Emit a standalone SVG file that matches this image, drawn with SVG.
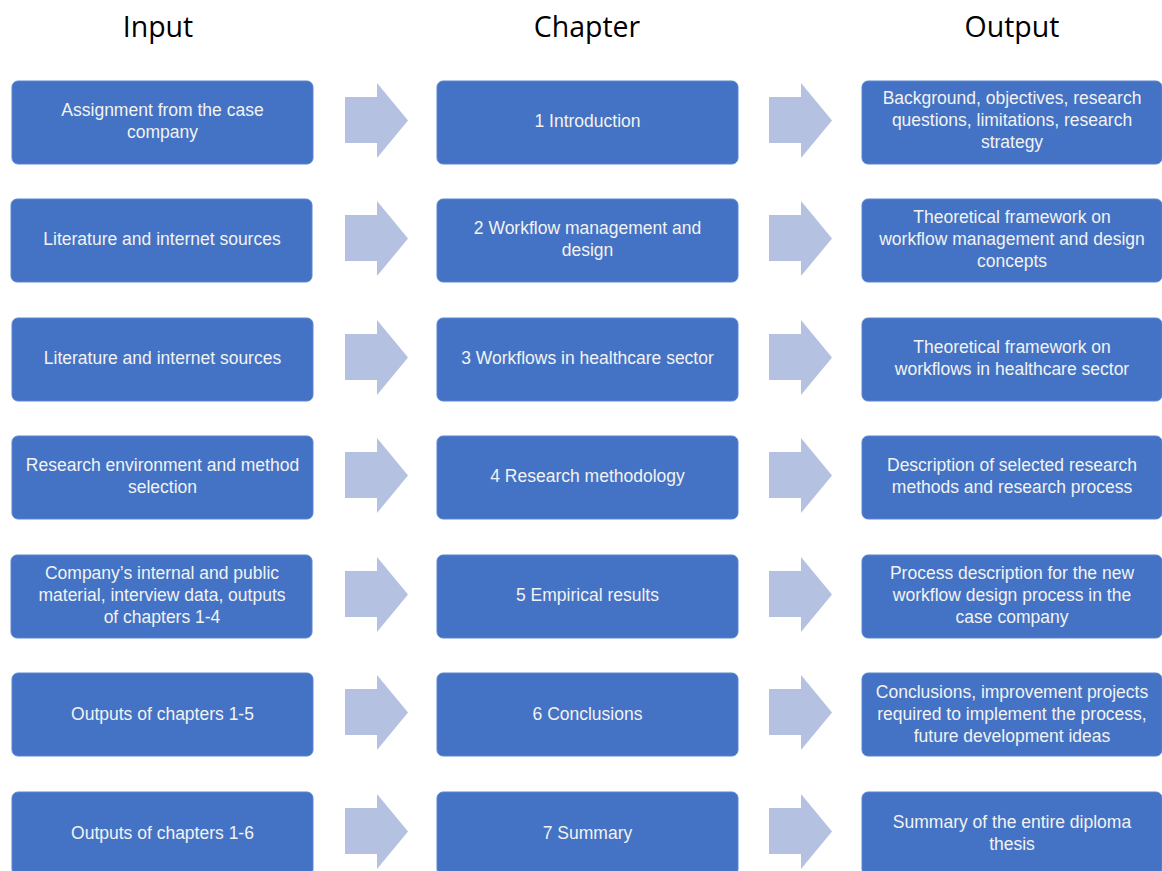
<svg xmlns="http://www.w3.org/2000/svg" width="1162" height="871" viewBox="0 0 1162 871">
<defs>
<style>
.box{fill:#4472C4;stroke:#5b85d0;stroke-width:1}
.arr{fill:#B4C1E1}
.t{font-family:"Liberation Sans",Arial,sans-serif;font-size:17.5px;fill:#F2F2F2;text-anchor:middle}
.h{font-family:"Open Sans","Liberation Sans",sans-serif;font-size:28.5px;fill:#000;text-anchor:middle}
</style>
<path id="a" d="M0,16 H32 V2 L63,39.5 L32,77 V62 H0 Z"/>
</defs>
<rect width="1162" height="871" fill="#fff"/>
<g id="headers">
<text class="h" x="158" y="37">Input</text>
<text class="h" x="587" y="37">Chapter</text>
<text class="h" x="1012" y="37">Output</text>
</g>
<g id="connectors">
<use href="#a" class="arr" x="345" y="81"/><use href="#a" class="arr" x="769" y="81"/>
<use href="#a" class="arr" x="345" y="199"/><use href="#a" class="arr" x="769" y="199"/>
<use href="#a" class="arr" x="345" y="318"/><use href="#a" class="arr" x="769" y="318"/>
<use href="#a" class="arr" x="345" y="436"/><use href="#a" class="arr" x="769" y="436"/>
<use href="#a" class="arr" x="345" y="555"/><use href="#a" class="arr" x="769" y="555"/>
<use href="#a" class="arr" x="345" y="673"/><use href="#a" class="arr" x="769" y="673"/>
<use href="#a" class="arr" x="345" y="792"/><use href="#a" class="arr" x="769" y="792"/>
</g>
<g id="in1"><rect class="box" x="12" y="81" width="301" height="83" rx="6"/><text class="t" x="162.5" y="116">Assignment from the case</text><text class="t" x="162.5" y="138">company</text></g>
<g id="ch1"><rect class="box" x="437" y="81" width="301" height="83" rx="6"/><text class="t" x="587.5" y="127">1 Introduction</text></g>
<g id="out1"><rect class="box" x="862" y="81" width="300" height="83" rx="6"/><text class="t" x="1012" y="104">Background, objectives, research</text><text class="t" x="1012" y="126">questions, limitations, research</text><text class="t" x="1012" y="148">strategy</text></g>

<g id="in2"><rect class="box" x="11" y="199" width="301" height="83" rx="6"/><text class="t" x="162" y="245">Literature and internet sources</text></g>
<g id="ch2"><rect class="box" x="437" y="199" width="301" height="83" rx="6"/><text class="t" x="587.5" y="234">2 Workflow management and</text><text class="t" x="587.5" y="256">design</text></g>
<g id="out2"><rect class="box" x="862" y="199" width="300" height="83" rx="6"/><text class="t" x="1012" y="223">Theoretical framework on</text><text class="t" x="1012" y="245">workflow management and design</text><text class="t" x="1012" y="267">concepts</text></g>

<g id="in3"><rect class="box" x="12" y="318" width="301" height="83" rx="6"/><text class="t" x="162.5" y="364">Literature and internet sources</text></g>
<g id="ch3"><rect class="box" x="437" y="318" width="301" height="83" rx="6"/><text class="t" x="587.5" y="364">3 Workflows in healthcare sector</text></g>
<g id="out3"><rect class="box" x="862" y="318" width="300" height="83" rx="6"/><text class="t" x="1012" y="353">Theoretical framework on</text><text class="t" x="1012" y="375">workflows in healthcare sector</text></g>

<g id="in4"><rect class="box" x="12" y="436" width="301" height="83" rx="6"/><text class="t" x="162.5" y="471">Research environment and method</text><text class="t" x="162.5" y="493">selection</text></g>
<g id="ch4"><rect class="box" x="437" y="436" width="301" height="83" rx="6"/><text class="t" x="587.5" y="482">4 Research methodology</text></g>
<g id="out4"><rect class="box" x="862" y="436" width="300" height="83" rx="6"/><text class="t" x="1012" y="471">Description of selected research</text><text class="t" x="1012" y="493">methods and research process</text></g>

<g id="in5"><rect class="box" x="11" y="555" width="301" height="83" rx="6"/><text class="t" x="162" y="579">Company’s internal and public</text><text class="t" x="162" y="601">material, interview data, outputs</text><text class="t" x="162" y="623">of chapters 1-4</text></g>
<g id="ch5"><rect class="box" x="437" y="555" width="301" height="83" rx="6"/><text class="t" x="587.5" y="601">5 Empirical results</text></g>
<g id="out5"><rect class="box" x="862" y="555" width="300" height="83" rx="6"/><text class="t" x="1012" y="579">Process description for the new</text><text class="t" x="1012" y="601">workflow design process in the</text><text class="t" x="1012" y="623">case company</text></g>

<g id="in6"><rect class="box" x="12" y="673" width="301" height="83" rx="6"/><text class="t" x="162.5" y="720">Outputs of chapters 1-5</text></g>
<g id="ch6"><rect class="box" x="437" y="673" width="301" height="83" rx="6"/><text class="t" x="587.5" y="720">6 Conclusions</text></g>
<g id="out6"><rect class="box" x="862" y="673" width="300" height="83" rx="6"/><text class="t" x="1012" y="698">Conclusions, improvement projects</text><text class="t" x="1012" y="720">required to implement the process,</text><text class="t" x="1012" y="742">future development ideas</text></g>

<g id="in7"><rect class="box" x="12" y="792" width="301" height="83" rx="6"/><text class="t" x="162.5" y="839">Outputs of chapters 1-6</text></g>
<g id="ch7"><rect class="box" x="437" y="792" width="301" height="83" rx="6"/><text class="t" x="587.5" y="839">7 Summary</text></g>
<g id="out7"><rect class="box" x="862" y="792" width="300" height="83" rx="6"/><text class="t" x="1012" y="828">Summary of the entire diploma</text><text class="t" x="1012" y="850">thesis</text></g>
</svg>
